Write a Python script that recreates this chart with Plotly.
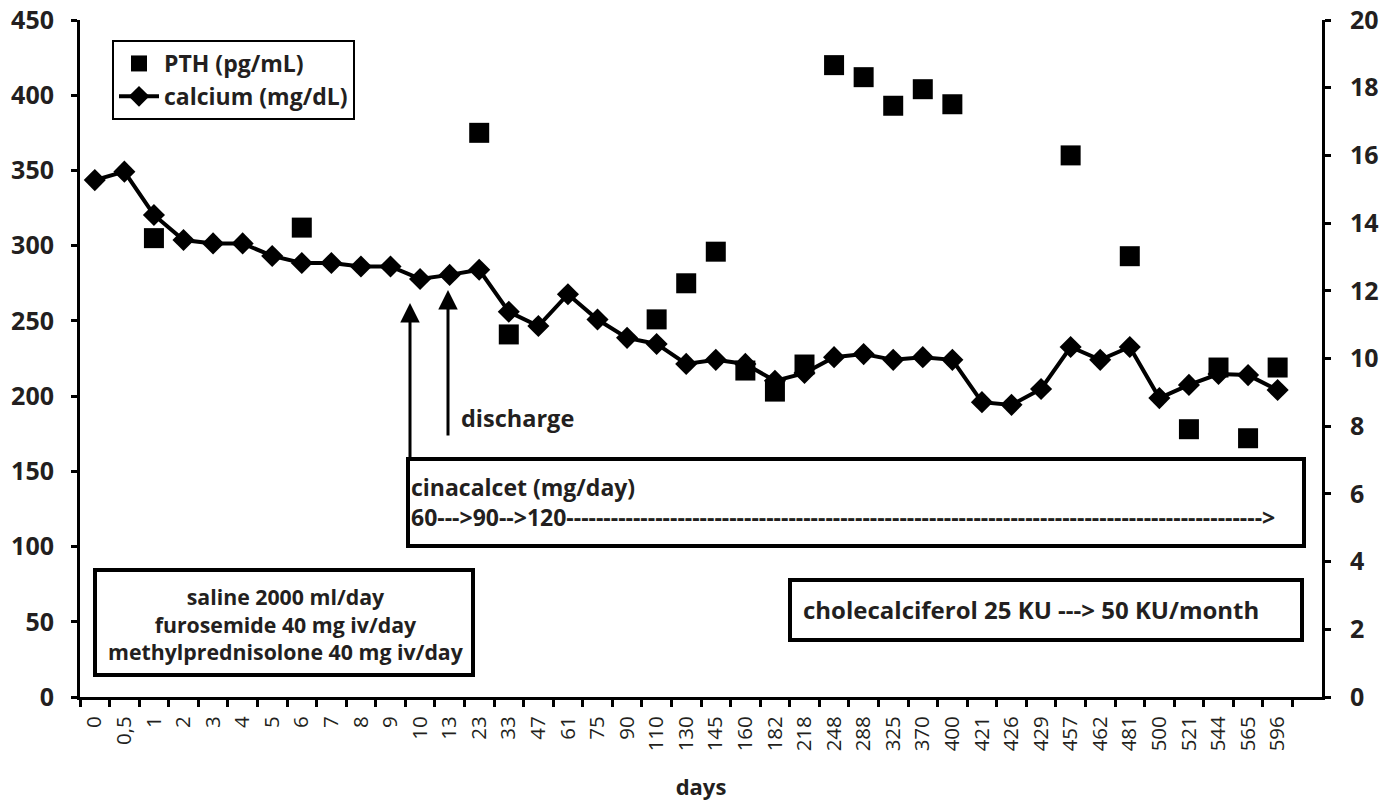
import plotly.graph_objects as go

days = ["0", "0,5", "1", "2", "3", "4", "5", "6", "7", "8", "9", "10", "13", "23", "33", "47", "61", "75",
        "90", "110", "130", "145", "160", "182", "218", "248", "288", "325", "370", "400", "421", "426",
        "429", "457", "462", "481", "500", "521", "544", "565", "596"]

calcium = [15.27, 15.52, 14.24, 13.50, 13.40, 13.40, 13.03, 12.82, 12.82, 12.72, 12.72, 12.35, 12.47, 12.62,
           11.38, 10.96, 11.90, 11.15, 10.61, 10.43, 9.84, 9.96, 9.84, 9.34, 9.57, 10.04, 10.13, 9.96,
           10.04, 9.96, 8.71, 8.63, 9.10, 10.34, 9.96, 10.34, 8.83, 9.22, 9.54, 9.51, 9.07]

pth_days = ["1", "6", "23", "33", "110", "130", "145", "160", "182", "218", "248", "288", "325", "370",
            "400", "457", "481", "521", "544", "565", "596"]
pth = [305, 312, 375, 241, 251, 275, 296, 217, 203, 221, 420, 412, 393, 404, 394, 360, 293, 178, 219, 172, 219]

left_ticks = list(range(0, 451, 50))
right_ticks = list(range(0, 21, 2))

FONT = "Open Sans"
TXT = "#231f20"
X0, X1, YT, YB = 80, 1322, 20, 697


def px(x):
    return (x - X0) / (X1 - X0)


def py(y):
    return (YB - y) / (YB - YT)


fig = go.Figure()
fig.add_trace(go.Scatter(x=pth_days, y=pth, mode="markers", name="PTH (pg/mL)",
                         marker=dict(symbol="square", size=20, color="black"), yaxis="y"))
fig.add_trace(go.Scatter(x=days, y=calcium, mode="lines+markers", name="calcium (mg/dL)",
                         line=dict(color="black", width=4),
                         marker=dict(symbol="diamond", size=17, color="black"), yaxis="y2"))

shapes = []
for (x0, y0, x1, y1) in [(95, 570, 473, 675), (408, 459, 1304, 546), (790, 580, 1302, 640)]:
    shapes.append(dict(type="rect", xref="paper", yref="paper", x0=px(x0), x1=px(x1), y0=py(y1), y1=py(y0),
                       line=dict(color="black", width=4), fillcolor="rgba(0,0,0,0)", layer="above"))

ann = []
ann.append(dict(text="saline 2000 ml/day<br>furosemide 40 mg iv/day<br>methylprednisolone 40 mg iv/day",
                xref="paper", yref="paper", x=px(286), y=py(624), xanchor="center", yanchor="middle",
                align="center", showarrow=False, font=dict(family=FONT, size=21.3, color=TXT, weight="bold")))
ann.append(dict(text="cinacalcet (mg/day)<br>60--->90-->120" + "-" * 94 + ">", xref="paper", yref="paper",
                x=px(409), y=py(502), xanchor="left", yanchor="middle", align="left", showarrow=False,
                font=dict(family=FONT, size=23, color=TXT, weight="bold")))
ann.append(dict(text="cholecalciferol 25 KU ---> 50 KU/month", xref="paper", yref="paper", x=px(801), y=py(609),
                xanchor="left", yanchor="middle", showarrow=False,
                font=dict(family=FONT, size=24, color=TXT, weight="bold")))
ann.append(dict(text="discharge", xref="paper", yref="paper", x=px(459), y=py(418), xanchor="left",
                yanchor="middle", showarrow=False, font=dict(family=FONT, size=23.5, color=TXT, weight="bold")))
# arrows
for xx, tip, tail in [(410, 303, 459), (448, 290, 437)]:
    ann.append(dict(text="", xref="paper", yref="paper", x=px(xx), y=py(tip), ax=0, ay=tail - tip,
                    axref="pixel", ayref="pixel", showarrow=True, arrowhead=2, arrowsize=1.3, arrowwidth=3,
                    arrowcolor="black", standoff=0))

W, H = 1396, 805
fig.update_layout(
    width=W, height=H,
    margin=dict(l=X0, r=W - X1, t=YT, b=H - YB),
    plot_bgcolor="white", paper_bgcolor="white",
    showlegend=True,
    legend=dict(x=px(112), y=py(40), xanchor="left", yanchor="top", bordercolor="black", borderwidth=2,
                bgcolor="white", font=dict(family=FONT, size=23, color=TXT, weight="bold"),
                itemwidth=40, tracegroupgap=0),
    xaxis=dict(type="category", categoryorder="array", categoryarray=days, range=[-0.5, 41.5],
               automargin=False, ticklabeloverflow="allow",
               showline=True, linecolor="black", linewidth=3, ticks="outside", tickson="boundaries",
               ticklen=7, tickwidth=3, tickcolor="black", tickangle=-90, showgrid=False, zeroline=False,
               tickfont=dict(family=FONT, size=20.5, color=TXT), ticklabelstandoff=8,
               title=dict(text="days", font=dict(family=FONT, size=22, color=TXT, weight="bold"), standoff=30)),
    yaxis=dict(range=[0, 450], tickvals=left_ticks, showline=True, linecolor="black", linewidth=3,
               automargin=False, ticklabeloverflow="allow",
               ticks="outside", ticklen=6, tickwidth=3, tickcolor="black", showgrid=False, zeroline=False,
               tickfont=dict(family=FONT, size=25, color=TXT, weight="bold"), ticklabelstandoff=12),
    yaxis2=dict(range=[0, 20], tickvals=right_ticks, overlaying="y", side="right", showline=True,
                automargin=False, ticklabeloverflow="allow",
                linecolor="black", linewidth=3, ticks="outside", ticklen=6, tickwidth=3, tickcolor="black",
                showgrid=False, zeroline=False,
                tickfont=dict(family=FONT, size=25, color=TXT, weight="bold"), ticklabelstandoff=14),
    shapes=shapes,
    annotations=ann,
)

# remove the default 8px page margin so the figure fills the window exactly
fig.write_html("out.html", config={"displayModeBar": False},
               post_script="document.body.style.margin='0';")
